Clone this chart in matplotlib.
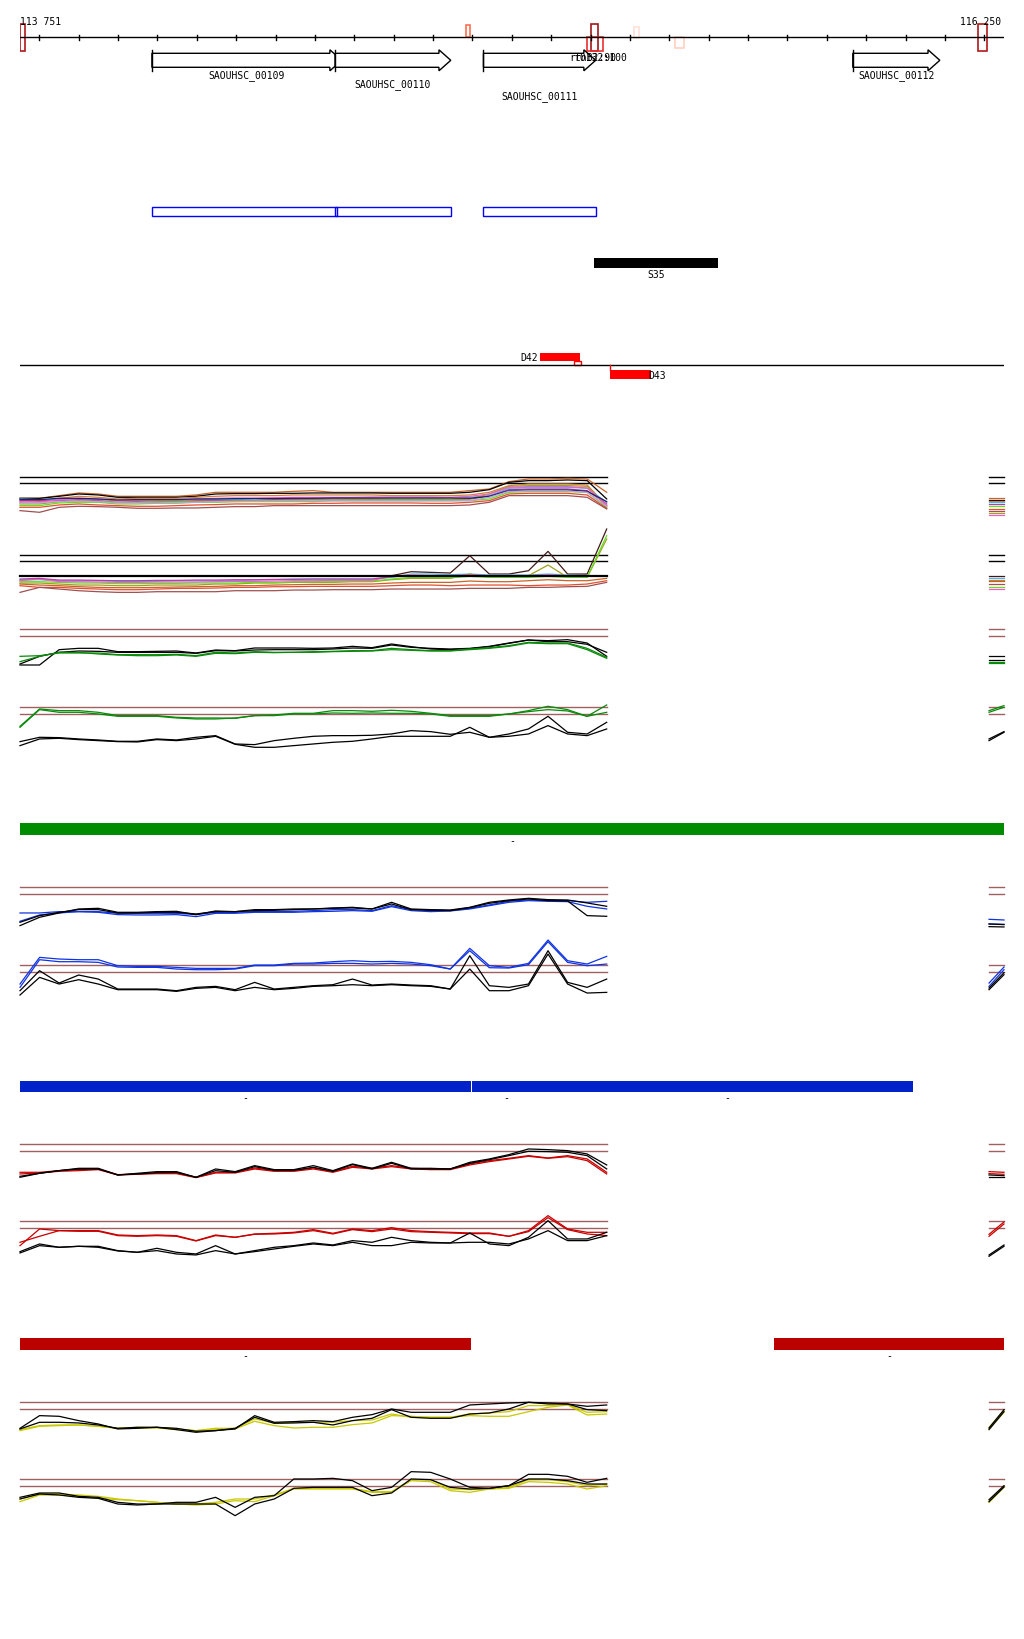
import numpy as np
import matplotlib.pyplot as plt
from matplotlib.patches import Rectangle, Polygon

W, H = 1024, 1640
START, END = 113751, 116250

# ---- annotation data (bp) ----
ticks = list(range(113800, 116250, 100))

site_start = [113751, 114883, 115201, 115190, 115311, 115414, 116185]
site_end = [113763, 114895, 115220, 115231, 115322, 115437, 116206]

gene_names = ['SAOUHSC_00109', 'SAOUHSC_00110', 'SAOUHSC_00111', 'SAOUHSC_00112']
gene_start = [114086, 114551, 114928, 115866]
gene_end = [114568, 114845, 115213, 116087]

cds_start = [114086, 114551, 114928]
cds_end = [114557, 114845, 115213]

s35 = (115209, 115523)
d42 = (115072, 115172)
d42_box = (115158, 115177)
d43 = (115249, 115353)

green_seg = [(113751, 116250)]
blue_seg = [(113751, 114897), (114900, 115074), (115074, 116019)]
red_seg = [(113751, 114897), (115666, 116250)]

# ---- trace data ----
pos = np.linspace(113751, 115241, 31)
stub_pos = [116212, 116250]

A = [[57,57,65,73,70,63,63,63,63,67,75,75,75,75,78,80,75,75,75,75,75,75,75,80,85,107,115,115,117,115,75],
     [57,57,63,70,67,60,60,60,60,63,70,71,71,72,72,73,73,73,73,72,72,72,72,75,83,105,110,110,112,110,55],
     [45,47,57,63,60,55,57,57,57,60,63,65,65,65,67,67,67,67,67,65,65,65,65,67,75,95,100,100,100,97,35],
     [55,53,55,55,53,50,50,50,50,53,53,53,55,55,55,57,57,57,57,57,57,57,55,60,65,87,90,90,90,87,45],
     [50,50,50,53,50,45,47,45,47,50,50,50,50,53,53,53,55,55,55,53,53,53,53,55,63,83,85,85,85,80,40],
     [35,35,43,45,45,40,40,42,42,45,45,47,47,47,47,47,50,50,50,50,50,50,50,50,55,75,77,77,77,75,30],
     [30,30,37,40,37,35,33,33,35,37,38,40,40,40,40,42,42,43,43,43,43,42,42,45,50,70,72,72,72,67,27],
     [20,15,30,33,32,30,27,27,28,28,30,32,32,35,35,35,35,35,35,35,35,35,35,37,45,65,65,65,65,60,25],
     [40,40,47,50,48,45,45,47,47,48,48,50,50,51,51,52,52,53,53,53,53,53,53,55,70,93,95,95,95,93,32],
     [47,45,53,57,55,50,52,52,53,55,57,58,58,59,60,60,60,60,61,61,61,61,60,63,70,90,92,92,92,88,37],
     [53,53,57,57,55,52,53,53,53,55,55,56,56,56,57,57,58,58,58,58,58,58,58,57,63,80,82,82,82,78,47],
     [43,43,48,48,47,43,43,43,44,45,47,47,48,49,49,49,49,49,49,49,49,49,49,50,60,78,79,79,79,75,33]]
A_colors = ['#c86428', 'black', '#d08040', '#50b4f0', '#b040a0', '#60e020',
            '#e05030', '#a05050', '#a0a020', '#f060c0', '#202060', '#c0a0e0']
A_stub = [57, 53, 50, 45, 40, 35, 25, 18, 12, 7]

B = [[55,55,55,55,55,55,55,55,55,55,55,55,55,55,55,55,55,55,55,57,69,67,65,117,62,62,72,130,62,62,197],
     [45,45,42,42,42,40,40,40,42,42,42,42,44,45,47,47,47,47,47,52,62,62,60,62,59,59,59,62,59,57,57],
     [35,35,32,29,29,27,27,29,29,29,32,32,35,35,37,37,37,39,39,45,49,49,49,62,52,52,57,89,52,52,167],
     [27,22,22,19,17,15,15,17,19,19,20,22,22,24,24,25,25,25,25,27,29,29,27,29,29,29,27,29,29,32,42],
     [7,22,17,12,9,7,7,9,9,9,9,12,12,12,14,14,15,15,15,17,17,17,17,19,19,19,22,22,24,25,37],
     [39,39,37,35,35,33,33,34,34,35,35,35,37,37,39,39,39,41,41,47,52,52,51,55,52,52,52,55,52,52,177],
     [42,47,39,39,38,37,37,38,38,38,39,40,40,41,42,42,43,43,43,55,59,57,57,59,57,57,57,59,57,55,55],
     [32,29,27,24,22,21,21,22,23,24,25,27,27,29,30,31,31,32,32,35,37,37,37,41,39,39,42,45,42,42,49],
     [47,49,44,44,43,42,42,43,43,44,44,45,45,46,46,47,47,47,47,54,57,57,57,58,57,57,57,58,57,56,56]]
B_colors = ['#401818', '#50b4f0', '#a0a020', '#e05030', '#a05050', '#60e020',
            '#f060c0', '#c86428', '#b040a0']
B_stub = [55, 50, 45, 40, 32, 22, 17]

C = [[12,12,58,62,62,52,52,53,54,48,57,55,63,63,63,62,63,68,64,75,67,60,58,61,67,77,87,85,88,78,38],
     [15,38,50,54,53,50,50,50,50,47,55,54,57,58,58,58,60,63,62,72,65,62,60,62,68,78,87,82,82,74,50],
     [38,40,48,48,48,43,43,43,44,40,50,48,52,50,50,52,53,55,55,62,58,55,55,60,64,70,80,78,78,62,35],
     [22,38,50,50,45,42,40,40,42,38,47,46,50,49,50,50,52,53,54,58,56,54,54,58,62,68,78,76,76,58,32]]
D = [[63,115,110,110,105,95,95,95,90,88,88,87,95,97,102,102,110,110,108,111,108,102,95,95,95,100,110,123,113,93,127],
     [60,113,105,105,100,93,93,93,88,85,85,88,95,95,100,100,103,102,103,102,102,100,93,93,93,100,107,113,109,93,105],
     [17,30,29,25,22,18,18,25,22,30,35,10,8,20,27,33,35,35,36,40,50,47,39,45,30,40,55,93,45,40,75],
     [5,25,27,23,20,17,16,23,20,25,33,9,0,0,5,10,15,18,25,33,33,33,33,60,30,33,40,65,40,35,55]]
E = [[43,43,47,47,47,42,42,42,42,38,45,45,47,47,48,50,53,53,50,65,53,51,50,57,67,78,82,80,80,75,78],
     [18,37,43,47,45,38,37,37,38,32,42,42,45,45,45,47,48,50,48,62,50,47,49,55,65,75,80,78,77,63,55],
     [5,30,43,55,57,45,45,47,48,38,49,47,53,53,55,55,58,60,55,75,55,53,52,60,75,82,87,83,82,73,63],
     [15,35,45,53,53,43,43,45,45,40,47,47,50,51,53,55,57,58,55,70,53,51,50,59,72,80,85,80,79,35,33]]
F = [[62,142,137,135,135,117,115,115,112,109,109,109,119,119,124,125,129,132,129,130,127,120,107,169,117,112,124,194,132,122,145],
     [52,135,129,129,127,113,112,112,107,105,105,107,117,117,122,122,124,124,122,124,122,117,107,162,111,110,120,189,127,117,122],
     [42,102,65,89,77,47,47,47,42,52,55,45,67,47,52,57,60,77,59,62,59,57,47,147,57,52,62,162,67,52,77],
     [29,82,62,75,62,45,45,45,40,49,52,42,52,45,49,55,57,60,57,60,57,55,47,107,42,42,57,152,62,35,37]]
G = [[36,36,41,44,46,29,31,34,34,21,36,36,49,41,41,49,38,54,48,56,48,46,46,61,71,78,86,79,86,76,36],
     [31,34,39,41,44,28,30,32,32,20,34,34,46,39,39,46,36,51,46,53,46,44,44,58,68,76,84,78,83,71,31],
     [21,33,41,48,48,28,33,38,38,21,46,38,56,44,44,56,41,61,48,66,48,48,46,66,76,89,106,104,101,91,58],
     [24,33,41,46,46,28,31,35,36,21,41,36,53,42,42,51,39,59,46,63,46,46,46,63,74,86,99,98,96,86,46]]
Hh = [[47,97,92,92,92,79,77,79,77,62,79,72,82,84,87,95,84,97,92,101,92,89,87,85,85,75,92,137,97,87,87],
      [57,75,92,90,90,77,75,77,75,61,77,72,81,82,85,92,82,95,89,97,89,87,85,83,83,75,89,131,95,82,77],
      [29,52,42,45,45,32,27,39,27,22,47,22,32,42,47,55,49,62,57,72,62,57,55,85,52,47,72,122,67,67,87],
      [25,47,42,45,42,31,27,32,22,19,32,22,29,37,45,52,47,57,47,47,57,55,55,57,57,52,67,92,62,62,77]]
I = [[38,50,52,52,48,42,45,45,40,35,42,42,70,58,60,60,60,65,67,85,75,75,75,85,88,92,110,110,113,90,92],
     [35,48,50,52,48,42,43,43,38,35,38,40,63,50,43,45,45,53,58,80,78,75,75,80,78,78,92,105,112,82,85],
     [42,80,78,65,55,40,42,45,42,33,35,40,80,60,62,65,62,75,83,100,90,90,90,112,115,118,120,118,115,108,112],
     [40,60,60,58,52,42,45,45,38,30,35,42,75,57,58,60,52,65,72,98,75,72,72,85,88,100,120,115,115,98,95]]
J = [[60,75,75,72,68,60,55,50,45,45,50,60,60,72,92,92,92,92,82,82,118,118,90,88,90,95,118,118,112,100,105],
     [52,72,72,68,62,58,55,50,45,42,45,55,52,70,90,90,90,90,80,80,115,112,85,80,90,92,112,110,105,90,100],
     [65,78,78,68,65,50,45,45,50,50,65,35,65,70,120,120,122,115,85,95,142,140,120,95,92,100,134,134,128,110,122],
     [60,75,72,65,62,45,42,45,45,45,45,10,45,60,92,95,95,95,70,78,120,118,95,90,92,100,120,120,115,105,105]]

stubs = {
    'C': [[38, 38], [26, 26], [18, 18], [22, 22]],
    'D': [[110, 125], [105, 120], [25, 47], [20, 45]],
    'E': [[24, 22], [10, 9], [10, 8], [2, 1]],
    'F': [[65, 113], [55, 105], [50, 96], [45, 90]],
    'G': [[38, 36], [32, 30], [28, 26], [22, 22]],
    'H': [[81, 118], [75, 112], [19, 49], [15, 45]],
    'I': [[45, 95], [40, 90], [43, 98], [38, 92]],
    'J': [[54, 99], [50, 95], [58, 100], [52, 96]],
}

BROWN = '#a06060'
fig = plt.figure(figsize=(W / 100, H / 100), dpi=100)
fig.patch.set_facecolor('white')
font = dict(family='DejaVu Sans Mono', fontsize=7)

# top axes: x in bp, y in pixels
ax = fig.add_axes([20 / W, 0, 984 / W, 1])
ax.set_xlim(START, END)
ax.set_ylim(H, 0)
ax.axis('off')

ax.plot([START, END], [38, 38], color='black', lw=1)
for t in ticks:
    ax.plot([t, t], [35.5, 40.5], color='black', lw=1)
ax.text(START, 22, '113 751', ha='left', va='center', **font)
ax.text(END - 8, 22, '116 250', ha='right', va='center', **font)

site_rows = [(25, 52), (26, 38), (25, 52), (38, 52), (28, 39), (38, 49), (25, 52)]
site_colors = ['#b01818', '#ff7050', '#a01818', '#e83030', '#ffe0d8', '#ffd0c0', '#b01818']
for s, e, (y0, y1), c in zip(site_start, site_end, site_rows, site_colors):
    ax.add_patch(Rectangle((s, y0), e - s, y1 - y0, fill=False, ec=c, lw=1.2))

label_rows = [76, 85, 97, 76]
yc, head = 61.3, 30
for name, s, e, ly in zip(gene_names, gene_start, gene_end, label_rows):
    pts = [(s, yc - 7), (e - head, yc - 7), (e - head, yc - 10.5), (e, yc),
           (e - head, yc + 10.5), (e - head, yc + 7), (s, yc + 7)]
    ax.add_patch(Polygon(pts, closed=True, fc='white', ec='black', lw=1))
    ax.plot([s, s], [yc - 10.5, yc + 10.5], color='black', lw=1)
    ax.text((s + e) / 2, ly, name, ha='center', va='center', **font)
# two feature names drawn on top of each other, as in the source browser
ax.text(115145, 58, 'rrnB2:90', ha='left', va='center', **font)
ax.text(115160, 58, 't0132:100', ha='left', va='center', **font)

for s, e in zip(cds_start, cds_end):
    ax.add_patch(Rectangle((s, 207.5), e - s, 9, fill=False, ec='#0000ff', lw=1))

ax.add_patch(Rectangle((s35[0], 258.5), s35[1] - s35[0], 10.5, color='black', lw=0))
ax.text(sum(s35) / 2, 275, 'S35', ha='center', va='center', **font)

ax.plot([START, END], [366.3, 366.3], color='black', lw=1)
ax.add_patch(Rectangle((d42[0], 353.5), d42[1] - d42[0], 8.5, color='#ff0000', lw=0))
ax.text(d42[0] - 5, 357.7, 'D42', ha='right', va='center', **font)
ax.add_patch(Rectangle((d42_box[0], 362.3), d42_box[1] - d42_box[0], 4, fill=False, ec='#ff0000', lw=1))
ax.add_patch(Rectangle((d43[0], 371), d43[1] - d43[0], 8.7, color='#ff0000', lw=0))
ax.plot([d43[0], d43[0]], [366.3, 371], color='#ff0000', lw=1)
ax.text(d43[1] - 5, 375.7, 'D43', ha='left', va='center', **font)


def bars(segs, color, y0, y1, ydash):
    for s, e in segs:
        ax.add_patch(Rectangle((s, y0), e - s, y1 - y0, color=color, lw=0))
        ax.text((s + e) / 2, ydash, '-', ha='center', va='center', **font)


bars(green_seg, '#008c00', 824, 836, 841)
bars(blue_seg, '#0022c8', 1082, 1093, 1098)
bars(red_seg, '#bb0000', 1339, 1351, 1356)


def panel(top, series, colors, stub, lines=(120, 99), lcol=BROWN, lw=0.9):
    pa = fig.add_axes([20 / W, 1 - (top + 50) / H, 984 / W, 50 / H])
    pa.set_xlim(START, END)
    pa.set_ylim(0, 150)
    pa.axis('off')
    for v in lines:
        pa.plot([pos[0], pos[-1]], [v, v], color=lcol, lw=1, clip_on=False)
        pa.plot(stub_pos, [v, v], color=lcol, lw=1, clip_on=False)
    for vals, c in zip(series, colors):
        pa.plot(pos, vals, color=c, lw=lw, clip_on=False)
    for vals, c in zip(stub, colors):
        pa.plot(stub_pos, vals, color=c, lw=lw, clip_on=False)
    return pa


pa = panel(468.3, A, A_colors, [[v, v] for v in A_stub], lines=(120, 102), lcol='black')
pb = panel(545.7, B, B_colors, [[v, v] for v in B_stub], lines=(120, 100), lcol='black')
pb.plot([pos[0], pos[-1]], [55, 55], color='black', lw=1.6, clip_on=False)

GREEN, BLUE, RED, YEL = '#0a8a0a', '#1033e0', '#c80000', '#c8c800'
panel(620, C, ['black', 'black', GREEN, GREEN], stubs['C'])
panel(698.3, D, [GREEN, GREEN, 'black', 'black'], stubs['D'])
panel(878.3, E, [BLUE, BLUE, 'black', 'black'], stubs['E'])
panel(955.7, F, [BLUE, BLUE, 'black', 'black'], stubs['F'])
panel(1135.3, G, [RED, RED, 'black', 'black'], stubs['G'])
panel(1212.3, Hh, [RED, RED, 'black', 'black'], stubs['H'])
panel(1393.3, I, [YEL, YEL, 'black', 'black'], stubs['I'])
panel(1470, J, [YEL, YEL, 'black', 'black'], stubs['J'])

fig.savefig('out.png', dpi=100, facecolor='white')
